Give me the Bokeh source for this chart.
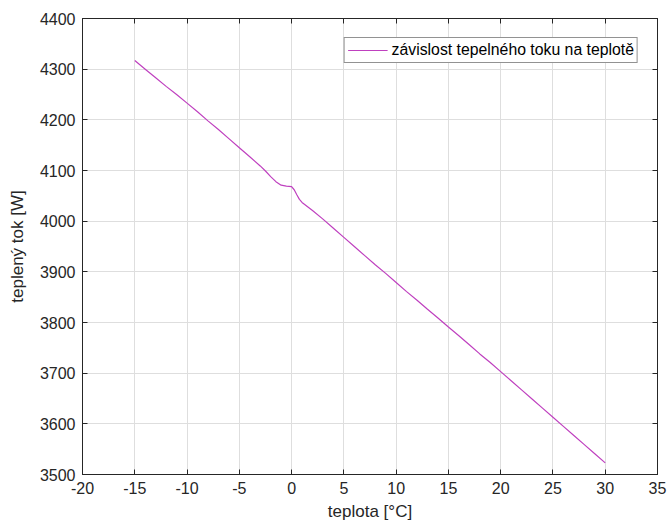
from bokeh.plotting import figure
from bokeh.models import Range1d, FixedTicker, LinearAxis, Legend, LegendItem
from bokeh.embed import file_html
from bokeh.resources import INLINE

# data
temperature = [-15, -14, -13, -12, -11, -10, -9, -8, -7, -6, -5, -4, -3, -2.5, -2, -1.5,
               -1, -0.5, 0, 0.25, 0.5, 0.75, 1, 2, 3, 4, 5, 6, 7, 8, 9, 10, 11, 12, 13, 14,
               15, 16, 17, 18, 19, 20, 21, 22, 23, 24, 25, 26, 27, 28, 29, 30]
heat_flow = [4317, 4300, 4283, 4266, 4250, 4233, 4216, 4198, 4181, 4163, 4145, 4127, 4109,
             4099, 4088, 4078, 4071, 4069, 4068, 4062, 4052, 4043, 4037, 4021, 4004, 3986,
             3968, 3950, 3932, 3914, 3897, 3879, 3861, 3844, 3826, 3809, 3791, 3774, 3756,
             3738, 3721, 3703, 3685, 3667, 3649, 3631, 3613, 3595, 3577, 3559, 3541, 3523]

x_ticks = [-20, -15, -10, -5, 0, 5, 10, 15, 20, 25, 30, 35]
y_ticks = [3500, 3600, 3700, 3800, 3900, 4000, 4100, 4200, 4300, 4400]
x_tick_labels = ["-20", "-15", "-10", "-5", "0", "5", "10", "15", "20", "25", "30", "35"]
y_tick_labels = ["3500", "3600", "3700", "3800", "3900", "4000", "4100", "4200", "4300", "4400"]

x_label = "teplota [°C]"
y_label = "teplený tok [W]"
legend_label = "závislost tepelného toku na teplotě"

FONT = "Liberation Sans"
DARK = "#262626"
LINE = "#bf40bf"

p = figure(width=670, height=524, output_backend="svg", toolbar_location=None,
           x_range=Range1d(x_ticks[0], x_ticks[-1]), y_range=Range1d(y_ticks[0], y_ticks[-1]),
           min_border_left=82, min_border_right=13, min_border_top=18, min_border_bottom=50)

p.background_fill_color = "white"
p.border_fill_color = "white"
p.outline_line_color = DARK
p.outline_line_width = 1

p.xgrid.ticker = FixedTicker(ticks=x_ticks)
p.ygrid.ticker = FixedTicker(ticks=y_ticks)
p.xgrid.grid_line_color = "#dedede"
p.ygrid.grid_line_color = "#dedede"

r = p.line(temperature, heat_flow, line_color=LINE, line_width=1.2)

for ax, ticks, labels, lab in ((p.xaxis[0], x_ticks, x_tick_labels, x_label),
                               (p.yaxis[0], y_ticks, y_tick_labels, y_label)):
    ax.ticker = FixedTicker(ticks=ticks)
    ax.major_label_overrides = {t: s for t, s in zip(ticks, labels)}
    ax.axis_label = lab
    ax.axis_label_text_font = FONT
    ax.axis_label_text_font_size = "17px"
    ax.axis_label_text_font_style = "normal"
    ax.axis_label_text_color = DARK
    ax.major_label_text_font = FONT
    ax.major_label_text_font_size = "16px"
    ax.major_label_text_color = DARK
    ax.major_tick_in = 5
    ax.major_tick_out = 0
    ax.minor_tick_line_color = None
    ax.axis_line_color = DARK
    ax.major_tick_line_color = DARK
    ax.major_label_standoff = 7

p.yaxis[0].axis_label_standoff = 10
p.xaxis[0].axis_label_standoff = 5

# box axes on top and right with inward ticks and no labels
for loc, ticks in (("above", x_ticks), ("right", y_ticks)):
    ax = LinearAxis(ticker=FixedTicker(ticks=ticks), major_tick_in=5, major_tick_out=0,
                    minor_tick_line_color=None, axis_line_color=DARK,
                    major_tick_line_color=DARK, major_label_text_font_size="0px",
                    major_label_standoff=0)
    p.add_layout(ax, loc)

legend = Legend(items=[LegendItem(label=legend_label, renderers=[r])],
                location="top_right")
legend.margin = 19
legend.padding = 3
legend.label_text_font = FONT
legend.label_text_font_size = "15.8px"
legend.label_text_color = "black"
legend.border_line_color = DARK
legend.border_line_width = 1
legend.glyph_width = 40
legend.glyph_height = 16
legend.label_standoff = 4
legend.label_height = 16
p.add_layout(legend)

open("out.html", "w").write(file_html(p, INLINE))
